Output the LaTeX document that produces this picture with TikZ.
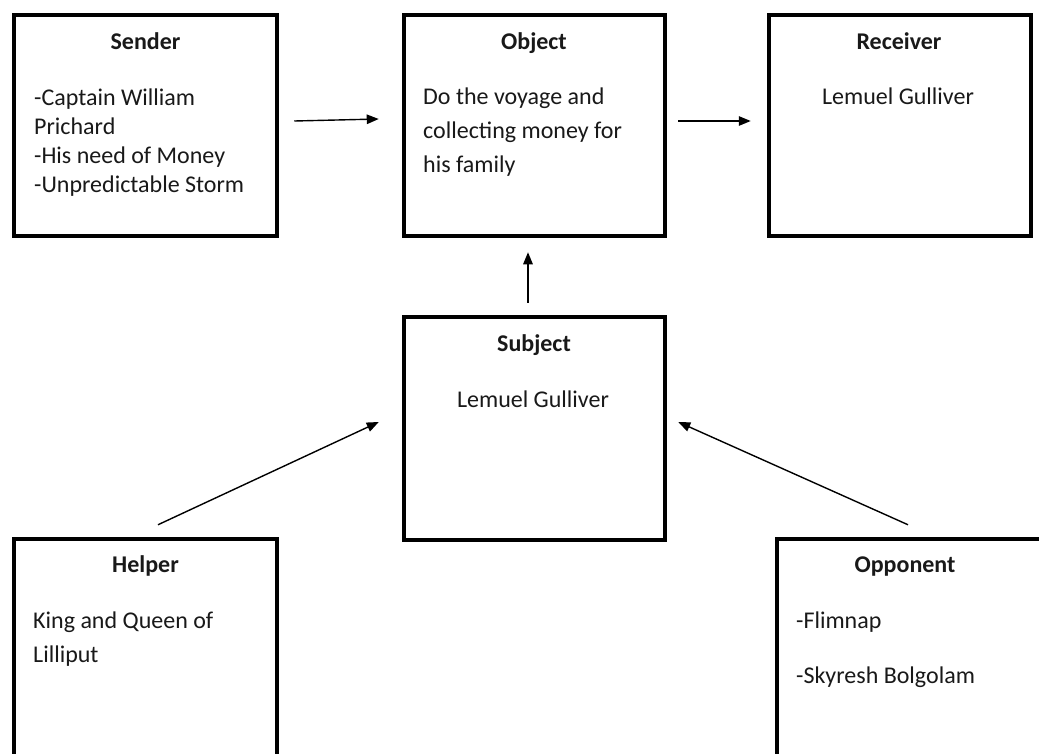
\documentclass[tikz,border=0pt]{standalone}
\usepackage{fontspec}
\setmainfont{Carlito}
\usetikzlibrary{arrows.meta}
\begin{document}
\begin{tikzpicture}[x=1pt,y=-1pt,
  box/.style={draw=black, line width=4.5pt, inner sep=0pt, fill=white},
  ttl/.style={anchor=base, inner sep=0pt, font=\fontsize{24pt}{29pt}\selectfont\bfseries, text=black!90},
  txt/.style={anchor=base west, inner sep=0pt, font=\fontsize{24pt}{29pt}\selectfont, text=black!90},
  ctxt/.style={anchor=base, inner sep=0pt, font=\fontsize{24pt}{29pt}\selectfont, text=black!90},
  arr/.style={-{Triangle[length=12pt,width=9.5pt]}, line width=1.4pt, draw=black}]
\clip (0,0) rectangle (1039,753);
\fill[white] (0,0) rectangle (1039,753);
% boxes
\node[box, minimum width=263pt, minimum height=221pt] (sender) at (145.5,125.5) {};
\node[box, minimum width=261pt, minimum height=221pt] (object) at (534.5,125.5) {};
\node[box, minimum width=262pt, minimum height=221pt] (receiver) at (900,125.5) {};
\node[box, minimum width=261pt, minimum height=223pt] (subject) at (534.5,428.5) {};
\node[box, minimum width=263pt, minimum height=261pt] (helper) at (145.5,669.5) {};
\node[box, minimum width=268pt, minimum height=261pt] (opponent) at (911,669.5) {};
% titles
\node[ttl] (tsender) at (145.5,49) {Sender};
\node[ttl] (tobject) at (534,49) {Object};
\node[ttl] (treceiver) at (899,49) {Receiver};
\node[ttl] (tsubject) at (534,351) {Subject};
\node[ttl] (thelper) at (145.5,572) {Helper};
\node[ttl] (topponent) at (905,572) {Opponent};
% sender text
\node[txt] (s1) at (34,105) {-Captain William};
\node[txt] (s2) at (34,134) {Prichard};
\node[txt] (s3) at (34,163) {-His need of Money};
\node[txt] (s4) at (34,192) {-Unpredictable Storm};
% object text
\node[txt] (o1) at (423,104) {Do the voyage and};
\node[txt] (o2) at (423,138) {collecting money for};
\node[txt] (o3) at (423,172) {his family};
% receiver
\node[ctxt] (r1) at (898,104) {Lemuel Gulliver};
% subject
\node[ctxt] (su1) at (533,407) {Lemuel Gulliver};
% helper
\node[txt] (h1) at (33,628) {King and Queen of};
\node[txt] (h2) at (33,662) {Lilliput};
% opponent
\node[txt] (p1) at (796,628) {-Flimnap};
\node[txt] (p2) at (796,683) {-Skyresh Bolgolam};
% arrows
\draw[arr] ([shift={(15,-4.5)}]sender.east) -- ([shift={(-23,-6.5)}]object.west);
\draw[arr] ([shift={(11,-4.5)}]object.east) -- ([shift={(-16,-4.5)}]receiver.west);
\draw[arr] ([shift={(-6.5,-12)}]subject.north) -- ([shift={(-6.5,14)}]object.south);
\draw[arr] ([shift={(12.5,-12)}]helper.north) -- ([shift={(-23,-6.5)}]subject.west);
\draw[arr] ([shift={(-3,-12)}]opponent.north) -- ([shift={(11,-6.5)}]subject.east);
\end{tikzpicture}
\end{document}
